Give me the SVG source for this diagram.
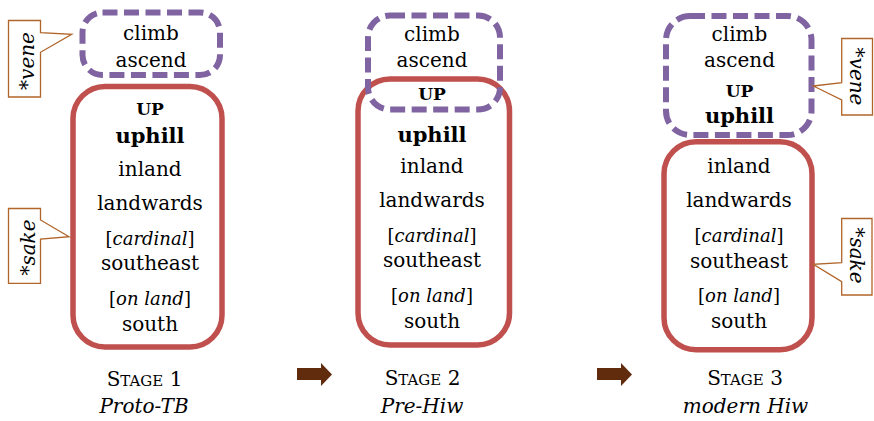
<svg xmlns="http://www.w3.org/2000/svg" width="874" height="421" viewBox="0 0 874 421">
<style>
text{font-family:"DejaVu Serif","Liberation Serif",serif;fill:#000;text-anchor:middle}
.t{font-size:20px}
.s{font-size:18px}
.b{font-weight:bold;font-size:21px}
.up{font-weight:bold;font-size:17px}
.i{font-style:italic}
.purple{fill:none;stroke:#8064A2;stroke-width:6;stroke-dasharray:15 6.5}
.red{fill:#fff;stroke:#C0504D;stroke-width:5.5}
.call{fill:#fff;stroke:#B0652A;stroke-width:1.3}
.arrow{fill:#612C0D}
</style>
<g id="stage1">
<rect class="red" x="73" y="86.5" width="149" height="260.5" rx="32"/>
<rect class="purple" x="82.5" y="12.5" width="137.5" height="62.5" rx="20"/>
<text class="t" x="151" y="40">climb</text>
<text class="t" x="151" y="67">ascend</text>
<text class="up" x="150" y="115">UP</text>
<text class="b" x="150" y="143">uphill</text>
<text class="t" x="150" y="176">inland</text>
<text class="t" x="150" y="210">landwards</text>
<text class="s" x="150" y="245">[<tspan class="i">cardinal</tspan>]</text>
<text class="t" x="150" y="270">southeast</text>
<text class="s" x="150" y="305">[<tspan class="i">on land</tspan>]</text>
<text class="t" x="150" y="331">south</text>
<text class="t" x="144.5" y="386">S<tspan font-size="15">TAGE</tspan> 1</text>
<text class="t i" x="144" y="413">Proto-TB</text>
</g>
<g id="callout-vene-1">
<path class="call" d="M8.5,20.5 H40.5 V32.7 L71.7,34.3 L40.5,52.3 V97 H8.5 Z"/>
<text class="t i" transform="translate(34,61) rotate(-90)">*vene</text>
</g>
<g id="callout-sake-1">
<path class="call" d="M8.5,208.5 H40.5 V220 L69,236.7 L40.5,239 V283.3 H8.5 Z"/>
<text class="t i" transform="translate(34.5,247.5) rotate(-90)">*sake</text>
</g>
<g id="stage2">
<rect class="red" x="358" y="79" width="151.5" height="266" rx="32"/>
<rect class="purple" x="368" y="15.5" width="132" height="94" rx="22"/>
<text class="t" x="432" y="41">climb</text>
<text class="t" x="432" y="67">ascend</text>
<text class="up" x="432" y="100">UP</text>
<text class="b" x="432" y="142">uphill</text>
<text class="t" x="432" y="173">inland</text>
<text class="t" x="432" y="207">landwards</text>
<text class="s" x="432" y="242">[<tspan class="i">cardinal</tspan>]</text>
<text class="t" x="432" y="267">southeast</text>
<text class="s" x="432" y="302">[<tspan class="i">on land</tspan>]</text>
<text class="t" x="432" y="328">south</text>
<text class="t" x="422.5" y="385">S<tspan font-size="15">TAGE</tspan> 2</text>
<text class="t i" x="422" y="413">Pre-Hiw</text>
</g>
<g id="stage3">
<rect class="red" x="664" y="141.7" width="148" height="208" rx="32"/>
<rect class="purple" x="666" y="16" width="145.5" height="119" rx="24"/>
<text class="t" x="739.5" y="41">climb</text>
<text class="t" x="739.5" y="67">ascend</text>
<text class="up" x="739.5" y="97">UP</text>
<text class="b" x="739.5" y="123">uphill</text>
<text class="t" x="739" y="173">inland</text>
<text class="t" x="739" y="207">landwards</text>
<text class="s" x="739" y="242">[<tspan class="i">cardinal</tspan>]</text>
<text class="t" x="739" y="268">southeast</text>
<text class="s" x="739" y="302">[<tspan class="i">on land</tspan>]</text>
<text class="t" x="739" y="328">south</text>
<text class="t" x="745" y="385">S<tspan font-size="15">TAGE</tspan> 3</text>
<text class="t i" x="745.5" y="413">modern Hiw</text>
</g>
<g id="callout-vene-3">
<path class="call" d="M841.7,38.5 H872.5 V115 H841.7 V100 L813.3,86 L841.7,82.7 Z"/>
<text class="t i" transform="translate(850,76.5) rotate(90)">*vene</text>
</g>
<g id="callout-sake-3">
<path class="call" d="M841.7,218.5 H872 V295 H841.7 V281.7 L813.3,264.3 L841.7,262.7 Z"/>
<text class="t i" transform="translate(850,255.5) rotate(90)">*sake</text>
</g>
<g id="connectors">
<path class="arrow" d="M297,368 H321 V363 L332,374.5 L321,386 V380 H297 Z"/>
<path class="arrow" d="M597,368 H621 V363 L632,374.5 L621,386 V380 H597 Z"/>
</g>
</svg>
